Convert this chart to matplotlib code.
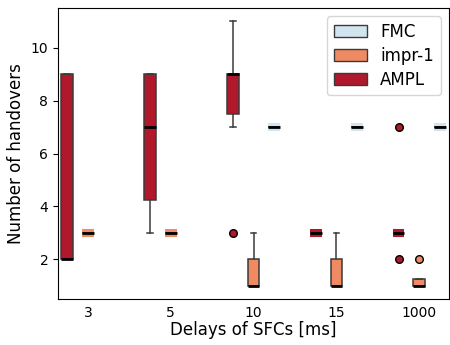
import matplotlib
matplotlib.use("Agg")
import matplotlib.pyplot as plt
from matplotlib.patches import Patch

categories = ["3", "5", "10", "15", "1000"]
series = ["FMC", "impr-1", "AMPL"]
colors = {"FMC": "#d1e5f0", "impr-1": "#ef8a62", "AMPL": "#b2182b"}

# box statistics per series and category: (whislo, q1, med, q3, whishi, fliers)
FMC_stats = [None, None,
             (7, 7, 7, 7, 7, []),
             (7, 7, 7, 7, 7, []),
             (7, 7, 7, 7, 7, [])]
impr1_stats = [(3, 3, 3, 3, 3, []),
               (3, 3, 3, 3, 3, []),
               (1, 1, 1, 2, 3, []),
               (1, 1, 1, 2, 3, []),
               (1, 1, 1, 1.25, 1.25, [2])]
AMPL_stats = [(2, 2, 2, 9, 9, []),
              (3, 4.25, 7, 9, 9, []),
              (7, 7.5, 9, 9, 11, [3]),
              (3, 3, 3, 3, 3, []),
              (3, 3, 3, 3, 3, [7, 2])]
stats_by_series = {"FMC": FMC_stats, "impr-1": impr1_stats, "AMPL": AMPL_stats}
offsets = {"AMPL": -0.25, "impr-1": 0.0, "FMC": 0.25}

width = 0.14
fig = plt.figure(figsize=(4.5, 3.45), dpi=100)
ax = fig.add_axes([0.129, 0.133, 0.869, 0.844])

for name in series:
    col = colors[name]
    for i, st in enumerate(stats_by_series[name]):
        if st is None:
            continue
        lo, q1, med, q3, hi, fl = st
        pos = i + offsets[name]
        d = dict(whislo=lo, q1=q1, med=med, q3=q3, whishi=hi, fliers=fl)
        if q1 == q3:
            ax.plot([pos - width / 2, pos + width / 2], [q1, q3], color=col,
                    lw=5.8, solid_capstyle="butt", zorder=2)
        ax.bxp([d], positions=[pos], widths=width, patch_artist=True,
               showcaps=True,
               boxprops=dict(facecolor=col, edgecolor="#3a3a3a", linewidth=1.1),
               whiskerprops=dict(color="#3a3a3a", linewidth=1.1),
               capprops=dict(color="#3a3a3a", linewidth=1.1),
               medianprops=dict(color="black", linewidth=2.0),
               flierprops=dict(marker="o", markerfacecolor=col,
                               markeredgecolor="black", markersize=5.5,
                               markeredgewidth=1.0),
               manage_ticks=False, zorder=3)

ax.set_xticks(range(len(categories)))
ax.set_xticklabels(categories, fontsize=10)
ax.tick_params(axis="x", length=0, pad=5)
ax.tick_params(axis="y", labelsize=10)
ax.set_xlim(-0.36, 4.36)
ax.set_ylim(0.5, 11.5)
ax.set_yticks([2, 4, 6, 8, 10])
ax.set_xlabel("Delays of SFCs [ms]", fontsize=12, labelpad=1)
ax.set_ylabel("Number of handovers", fontsize=12)

handles = [Patch(facecolor=colors[n], edgecolor="#3a3a3a", label=n) for n in series]
ax.legend(handles=handles, loc="upper right", fontsize=12, labelspacing=0.35)

fig.savefig("out.png", dpi=100)
